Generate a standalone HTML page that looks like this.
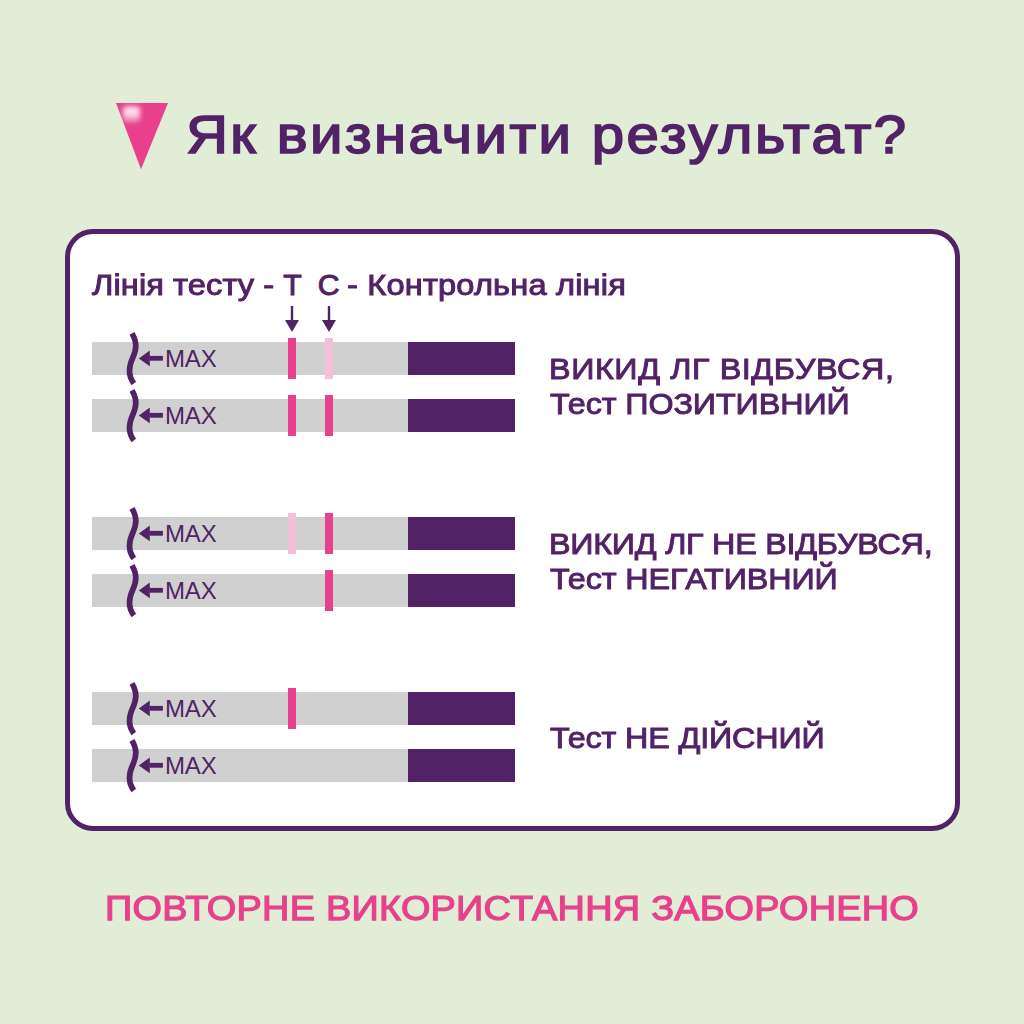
<!DOCTYPE html>
<html>
<head>
<meta charset="utf-8">
<style>
html,body{margin:0;padding:0;}
body{width:1024px;height:1024px;background:#e1edd7;position:relative;overflow:hidden;font-family:"Liberation Sans",sans-serif;}
.t{position:absolute;white-space:nowrap;line-height:1;color:#512366;font-weight:normal;transform-origin:0 0;transform:scaleX(1.08);-webkit-text-stroke:0.65px #512366;}
#title{left:186.2px;top:107.6px;font-size:53.8px;letter-spacing:2.23px;-webkit-text-stroke:1.7px #512366;}
#card{position:absolute;left:64.5px;top:229px;width:885.3px;height:592px;border:5px solid #512366;border-radius:28px;background:#fff;}
.hd{top:270px;font-size:30.2px;-webkit-text-stroke:1px #512366;}
.r{font-size:29.9px;left:549.6px;-webkit-text-stroke:0.95px #512366;}
#bottom{left:105px;top:889.9px;font-size:35.1px;letter-spacing:0.23px;color:#e8408c;-webkit-text-stroke:1.25px #e8408c;}
.strip{position:absolute;left:92px;width:423px;height:33px;background:#d0d0d0;}
.strip .h{position:absolute;left:315.5px;top:0;width:107.5px;height:33px;background:#512366;}
.strip .ln{position:absolute;top:-4px;width:8.5px;height:41px;}
.strip .T{left:195.5px;}
.strip .C{left:232.5px;}
.dark{background:#e8408c;}
.light{background:#f4bfd8;}
.strip svg{position:absolute;left:-92px;top:-12px;overflow:visible;}
.strip .mx{position:absolute;left:72.9px;top:4.8px;font-size:24px;letter-spacing:-0.1px;color:#512366;line-height:1;}
</style>
</head>
<body>
<svg style="position:absolute;left:0;top:0" width="1024" height="200">
  <defs>
    <filter id="bl" x="-50%" y="-50%" width="200%" height="200%"><feGaussianBlur stdDeviation="2.6"/></filter>
    <linearGradient id="hg" x1="0" y1="0" x2="0" y2="1"><stop offset="0" stop-color="#fff" stop-opacity="0.95"/><stop offset="0.55" stop-color="#fff" stop-opacity="0.75"/><stop offset="1" stop-color="#fff" stop-opacity="0.3"/></linearGradient>
    <clipPath id="tc"><polygon points="116,103 168,103 141,169.3"/></clipPath>
  </defs>
  <polygon points="116,103 168,103 141,169.3" fill="#e8408c"/>
  <g clip-path="url(#tc)"><rect x="123" y="106.5" width="17" height="15.5" rx="4" fill="url(#hg)" filter="url(#bl)"/></g>
</svg>
<div class="t" id="title">Як визначити результат?</div>
<div id="card"></div>
<div class="t hd" style="left:92.1px;letter-spacing:0.08px">Лінія тесту -</div><div class="t hd" style="left:283.3px;transform:none">Т</div><div class="t hd" style="left:317.8px;transform:none">С</div><div class="t hd" style="left:347.4px;letter-spacing:0.16px">- Контрольна лінія</div>

<svg style="position:absolute;left:0;top:0" width="1024" height="340">
  <g fill="#512366" stroke="#512366">
    <line x1="292" y1="306" x2="292" y2="321" stroke-width="2.4"/>
    <polygon points="285,320 299,320 292,332" stroke="none"/>
    <line x1="329" y1="306" x2="329" y2="321" stroke-width="2.4"/>
    <polygon points="322,320 336,320 329,332" stroke="none"/>
  </g>
</svg>

<!-- group 1 -->
<div class="strip" style="top:342px"><div class="h"></div><div class="ln T dark"></div><div class="ln C light"></div>
<svg width="200" height="60"><path d="M132,3.3 C137.5,13 136.3,19.5 133,27.3 C128.2,37.5 128.5,46.5 133.8,53.4" fill="none" stroke="#512366" stroke-width="5.7"/><polygon points="138.8,28.4 149.8,20.5 149.8,36.2" fill="#512366"/><rect x="149.5" y="25.9" width="13.4" height="4.8" fill="#512366"/></svg>
<div class="mx">MAX</div></div>
<div class="strip" style="top:399px"><div class="h"></div><div class="ln T dark"></div><div class="ln C dark"></div>
<svg width="200" height="60"><path d="M132,3.3 C137.5,13 136.3,19.5 133,27.3 C128.2,37.5 128.5,46.5 133.8,53.4" fill="none" stroke="#512366" stroke-width="5.7"/><polygon points="138.8,28.4 149.8,20.5 149.8,36.2" fill="#512366"/><rect x="149.5" y="25.9" width="13.4" height="4.8" fill="#512366"/></svg>
<div class="mx">MAX</div></div>

<!-- group 2 -->
<div class="strip" style="top:517px"><div class="h"></div><div class="ln T light"></div><div class="ln C dark"></div>
<svg width="200" height="60"><path d="M132,3.3 C137.5,13 136.3,19.5 133,27.3 C128.2,37.5 128.5,46.5 133.8,53.4" fill="none" stroke="#512366" stroke-width="5.7"/><polygon points="138.8,28.4 149.8,20.5 149.8,36.2" fill="#512366"/><rect x="149.5" y="25.9" width="13.4" height="4.8" fill="#512366"/></svg>
<div class="mx">MAX</div></div>
<div class="strip" style="top:574px"><div class="h"></div><div class="ln C dark"></div>
<svg width="200" height="60"><path d="M132,3.3 C137.5,13 136.3,19.5 133,27.3 C128.2,37.5 128.5,46.5 133.8,53.4" fill="none" stroke="#512366" stroke-width="5.7"/><polygon points="138.8,28.4 149.8,20.5 149.8,36.2" fill="#512366"/><rect x="149.5" y="25.9" width="13.4" height="4.8" fill="#512366"/></svg>
<div class="mx">MAX</div></div>

<!-- group 3 -->
<div class="strip" style="top:692px"><div class="h"></div><div class="ln T dark"></div>
<svg width="200" height="60"><path d="M132,3.3 C137.5,13 136.3,19.5 133,27.3 C128.2,37.5 128.5,46.5 133.8,53.4" fill="none" stroke="#512366" stroke-width="5.7"/><polygon points="138.8,28.4 149.8,20.5 149.8,36.2" fill="#512366"/><rect x="149.5" y="25.9" width="13.4" height="4.8" fill="#512366"/></svg>
<div class="mx">MAX</div></div>
<div class="strip" style="top:749px"><div class="h"></div>
<svg width="200" height="60"><path d="M132,3.3 C137.5,13 136.3,19.5 133,27.3 C128.2,37.5 128.5,46.5 133.8,53.4" fill="none" stroke="#512366" stroke-width="5.7"/><polygon points="138.8,28.4 149.8,20.5 149.8,36.2" fill="#512366"/><rect x="149.5" y="25.9" width="13.4" height="4.8" fill="#512366"/></svg>
<div class="mx">MAX</div></div>

<div class="t r" style="top:353.5px;left:549.1px;letter-spacing:0.56px">ВИКИД ЛГ ВІДБУВСЯ,</div>
<div class="t r" style="top:389.3px;letter-spacing:-0.08px">Тест ПОЗИТИВНИЙ</div>
<div class="t r" style="top:528.5px;left:549.1px;letter-spacing:-0.22px">ВИКИД ЛГ НЕ ВІДБУВСЯ,</div>
<div class="t r" style="top:564.3px;letter-spacing:-0.09px">Тест НЕГАТИВНИЙ</div>
<div class="t r" style="top:722.8px;letter-spacing:-0.13px">Тест НЕ ДІЙСНИЙ</div>

<div class="t" id="bottom">ПОВТОРНЕ ВИКОРИСТАННЯ ЗАБОРОНЕНО</div>
</body>
</html>
